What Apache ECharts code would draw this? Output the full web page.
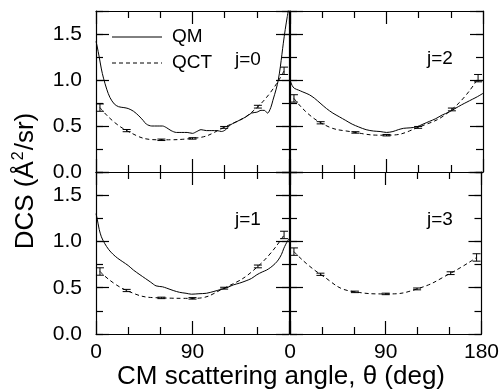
<!DOCTYPE html>
<html>
<head>
<meta charset="utf-8">
<script src="https://cdn.jsdelivr.net/npm/echarts@6/dist/echarts.min.js"></script>
<style>
  html, body { margin: 0; background: #fff; }
  #chart { width: 502px; height: 391px; }
</style>
</head>
<body>
<div id="chart"></div>
<script>
// QCT angles (error-bar positions), same for every panel
const qctAngles = [3.7, 28.6, 61, 90, 119.5, 151, 175.4];
const qctErr = [0.04, 0.012, 0.008, 0.008, 0.01, 0.015, 0.04];
const qctJ0 = [0.70, 0.45, 0.35, 0.365, 0.485, 0.71, 1.10];
const qctJ1 = [0.675, 0.47, 0.39, 0.385, 0.495, 0.73, 1.07];
const qctJ2 = [0.80, 0.535, 0.43, 0.40, 0.485, 0.68, 1.02];
const qctJ3 = [0.89, 0.645, 0.455, 0.433, 0.487, 0.657, 0.827];

// QM curves [angle, dcs]
const qmJ0 = [[0,1.42],[1,1.37],[3,1.25],[5,1.12],[7,1.02],[10,0.9],[13,0.81],[17,0.74],[21,0.71],[26,0.70],
  [30,0.69],[35,0.66],[40,0.61],[44,0.56],[47,0.52],[52,0.50],[57,0.50],[62,0.50],[66,0.48],[70,0.45],
  [75,0.43],[80,0.43],[85,0.43],[90,0.42],[94,0.44],[98,0.46],[103,0.45],[108,0.45],[113,0.45],[117,0.44],
  [121,0.46],[125,0.51],[130,0.54],[135,0.57],[140,0.60],[145,0.64],[150,0.65],[154,0.67],[157,0.67],
  [160,0.64],[163,0.70],[165,0.78],[168,0.90],[170,1.0],[172,1.15],[174.7,1.40],[176.5,1.55],[178.4,1.69],[180,1.80]];
const qmJ1 = [[0,1.30],[1,1.25],[3,1.13],[5,1.05],[8,0.98],[12,0.91],[16,0.86],[20,0.82],[25,0.78],[30,0.74],
  [35,0.69],[41,0.64],[46,0.60],[51,0.56],[56,0.52],[62,0.51],[66,0.495],[72,0.47],[78,0.45],[84,0.44],
  [89,0.43],[96,0.435],[103,0.44],[110,0.46],[116,0.48],[122,0.50],[128,0.53],[134,0.55],[140,0.575],
  [145,0.60],[150,0.64],[155,0.67],[159,0.69],[163,0.72],[167,0.76],[170,0.80],[173,0.86],[175,0.92],[177,0.97],[180,1.03]];
const qmJ2 = [[0,1.0],[2,0.94],[4,0.91],[8,0.89],[12,0.87],[18,0.84],[23,0.80],[28,0.75],[34,0.69],[40,0.64],
  [46,0.60],[52,0.56],[58,0.52],[64,0.49],[71,0.46],[78,0.445],[84,0.44],[90,0.43],[96,0.44],[101,0.46],
  [106,0.475],[112,0.48],[118,0.49],[124,0.52],[130,0.55],[136,0.58],[142,0.62],[148,0.65],[154,0.69],
  [160,0.73],[165,0.76],[170,0.79],[175,0.82],[180,0.855]];

const yTicks = [0, 0.5, 1.0, 1.5];
const xTicks = [0, 90, 180];

// panels: j=0 (top left), j=2 (top right), j=1 (bottom left), j=3 (bottom right)
const panels = [
  { grid: {left: 96, top: 11, width: 193, height: 161}, qm: qmJ0, qct: qctJ0, row: 0, col: 0 },
  { grid: {left: 290, top: 11, width: 193, height: 161}, qm: qmJ2, qct: qctJ2, row: 0, col: 1 },
  { grid: {left: 96, top: 172, width: 193, height: 162}, qm: qmJ1, qct: qctJ1, row: 1, col: 0 },
  { grid: {left: 290, top: 172, width: 193, height: 162}, qm: null, qct: qctJ3, row: 1, col: 1 }
];

const FONT = '"Liberation Sans", Arial, sans-serif';
const axisLine = { show: true, onZero: false, lineStyle: { color: '#000', width: 1.2 } };
const tickStyle = { color: '#000', width: 1.2 };

function errorBar(params, api) {
  const x = api.value(0), y = api.value(1), e = api.value(2);
  const lo = api.coord([x, y - e]);
  const hi = api.coord([x, y + e]);
  const w = 4;
  const style = { stroke: '#000', lineWidth: 1 };
  return {
    type: 'group',
    children: [
      { type: 'line', shape: { x1: lo[0], y1: lo[1], x2: hi[0], y2: hi[1] }, style },
      { type: 'line', shape: { x1: lo[0] - w, y1: lo[1], x2: lo[0] + w, y2: lo[1] }, style },
      { type: 'line', shape: { x1: hi[0] - w, y1: hi[1], x2: hi[0] + w, y2: hi[1] }, style }
    ]
  };
}

const grid = [], xAxis = [], yAxis = [], series = [];

panels.forEach((p, g) => {
  grid.push(p.grid);
  // bottom and top x axes
  ['bottom', 'top'].forEach((pos) => {
    const showLabel = pos === 'bottom' && p.row === 1;
    xAxis.push({
      type: 'value', gridIndex: g, position: pos, min: 0, max: 180, interval: 90,
      axisLine,
      axisTick: { inside: true, length: 13, lineStyle: tickStyle },
      minorTick: { show: true, splitNumber: 3, length: 7, lineStyle: tickStyle },
      splitLine: { show: false },
      axisLabel: {
        show: showLabel, fontSize: 21, color: '#000', fontFamily: FONT, margin: 8,
        formatter: (v) => (xTicks.indexOf(v) >= 0 && !(p.col === 0 && v === 180)) ? String(v) : ''
      }
    });
  });
  // left/right y axes, each with a long-tick (0.5) and short-tick (0.25) axis
  ['left', 'right'].forEach((pos) => {
    yAxis.push({
      type: 'value', gridIndex: g, position: pos, min: 0, max: 1.75, interval: 0.5,
      axisLine,
      axisTick: { inside: true, length: 13, lineStyle: tickStyle },
      splitLine: { show: false },
      axisLabel: {
        show: pos === 'left' && p.col === 0, fontSize: 21, color: '#000', fontFamily: FONT, margin: 14,
        formatter: (v) => yTicks.indexOf(v) >= 0 ? v.toFixed(1) : ''
      }
    });
    yAxis.push({
      type: 'value', gridIndex: g, position: pos, min: 0, max: 1.75, interval: 0.25,
      axisLine: { show: false, onZero: false },
      axisTick: { inside: true, length: 7, lineStyle: tickStyle },
      splitLine: { show: false },
      axisLabel: { show: false }
    });
  });

  const yi = g * 4;
  if (p.qm) {
    series.push({
      type: 'line', name: 'QM', xAxisIndex: g * 2, yAxisIndex: yi, data: p.qm,
      symbol: 'none', smooth: 0.3, clip: true,
      lineStyle: { color: '#000', width: 1 }
    });
  }
  series.push({
    type: 'line', name: 'QCT', xAxisIndex: g * 2, yAxisIndex: yi,
    data: qctAngles.map((a, i) => [a, p.qct[i]]),
    symbol: 'none', smooth: 0.5, clip: true,
    lineStyle: { color: '#000', width: 1, type: [4, 3] }
  });
  series.push({
    type: 'custom', xAxisIndex: g * 2, yAxisIndex: yi,
    data: qctAngles.map((a, i) => [a, p.qct[i], qctErr[i]]),
    encode: { x: 0, y: 1 },
    renderItem: errorBar
  });
});

const txt = (x, y, text, size, extra) => Object.assign({
  type: 'text', x, y,
  style: { text, fontSize: size, fontFamily: FONT, fill: '#000', textVerticalAlign: 'middle' }
}, extra || {});

const chart = echarts.init(document.getElementById('chart'), null, { renderer: 'canvas' });
chart.setOption({
  backgroundColor: '#fff',
  animation: false,
  grid, xAxis, yAxis, series,
  graphic: [
    // legend
    { type: 'line', shape: { x1: 112, y1: 37, x2: 162, y2: 37 }, style: { stroke: '#000', lineWidth: 1 } },
    { type: 'line', shape: { x1: 112, y1: 63, x2: 162, y2: 63 }, style: { stroke: '#000', lineWidth: 1, lineDash: [4, 3] } },
    txt(172, 37, 'QM', 19),
    txt(172, 63, 'QCT', 19),
    // panel labels
    txt(235, 60, 'j=0', 19),
    txt(427, 59, 'j=2', 19),
    txt(235, 220, 'j=1', 19),
    txt(427, 220, 'j=3', 19),
    // axis titles
    {
      type: 'text', x: 281, y: 377,
      style: { text: 'CM scattering angle, θ (deg)', fontSize: 26, fontFamily: FONT, fill: '#000',
        textAlign: 'center', textVerticalAlign: 'middle' }
    },
    {
      type: 'text', x: 26, y: 181, rotation: Math.PI / 2,
      style: {
        text: '{m|DCS (Å}{s|2}{m|/sr)}', fontFamily: FONT, fill: '#000',
        textAlign: 'center', textVerticalAlign: 'middle',
        rich: {
          m: { fontSize: 26, fontFamily: FONT, lineHeight: 30 },
          s: { fontSize: 16, fontFamily: FONT, verticalAlign: 'top', lineHeight: 16, padding: [0, 1, 0, 1] }
        }
      }
    }
  ]
});
</script>
</body>
</html>
